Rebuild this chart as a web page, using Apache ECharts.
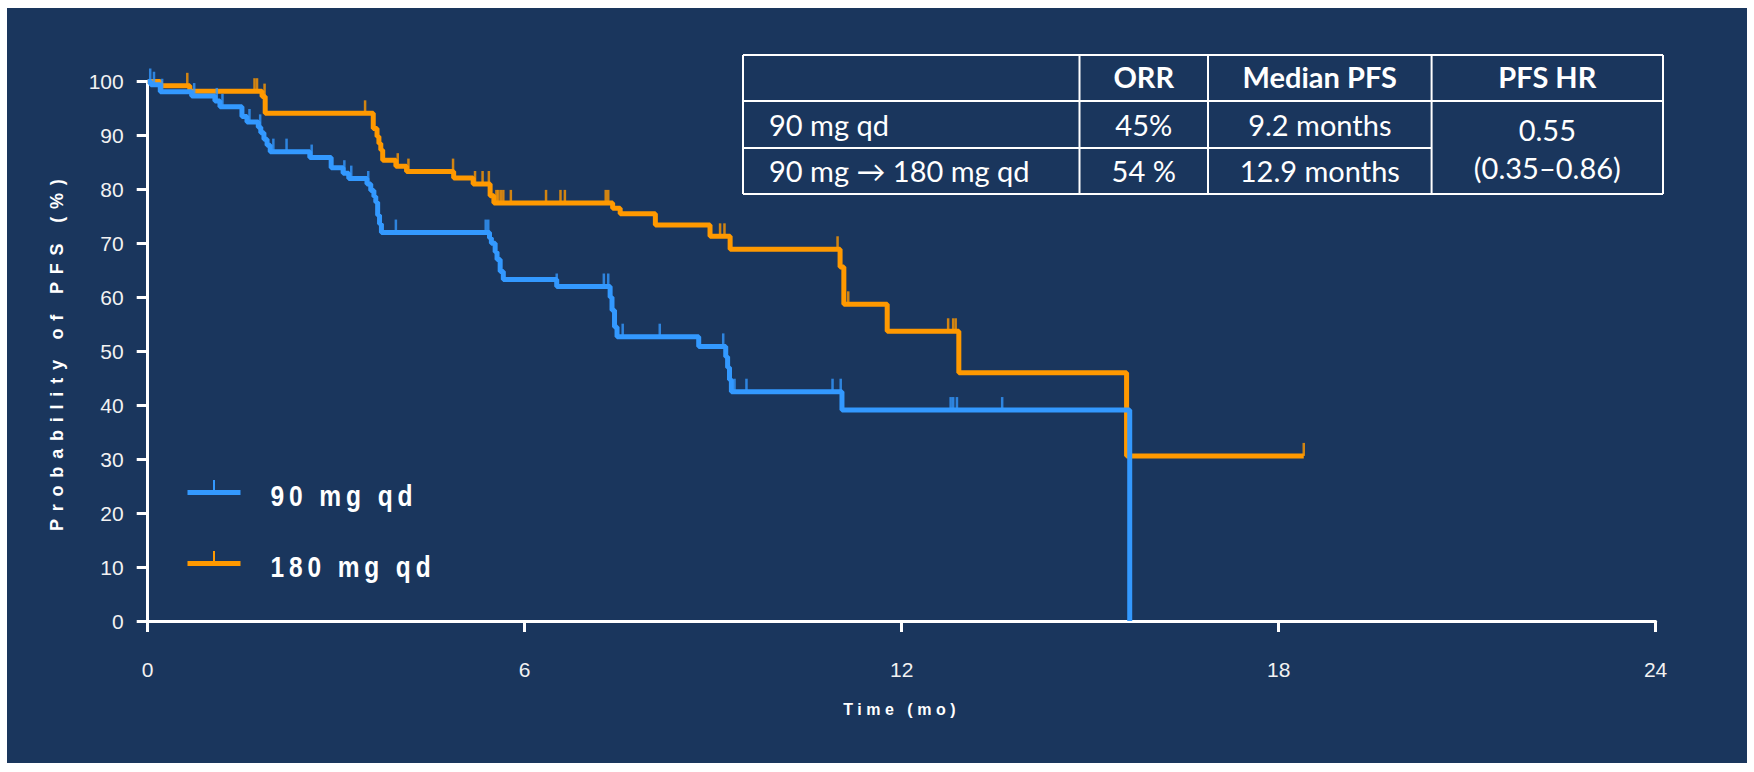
<!DOCTYPE html>
<html><head><meta charset="utf-8">
<script src="https://cdn.jsdelivr.net/npm/echarts@6/dist/echarts.min.js"></script>
<style>
html,body{margin:0;padding:0;background:#ffffff;width:1754px;height:772px;overflow:hidden}
#chart{position:absolute;left:7px;top:8px;width:1740px;height:755px;}
</style>
</head><body><div id="chart"></div>
<script>
// ---------------- data ----------------
const seriesNames = ['90 mg qd', '180 mg qd'];
// Kaplan-Meier steps: [time (months), PFS %]
const pfs90 = [[0,100],[0.05,99.4],[0.2,98.1],[0.70,97.3],[1.07,96.4],[1.15,95.3],[1.50,93.5],[1.58,92.5],[1.76,91.5],[1.80,90.5],[1.85,89.3],[1.90,88.2],[1.95,87.0],[2.58,85.9],[2.92,84.0],[3.11,83.0],[3.20,82.0],[3.49,81.0],[3.55,79.8],[3.60,78.7],[3.63,77.6],[3.66,75.2],[3.69,73.6],[3.72,72.0],[5.44,71.0],[5.47,70.0],[5.53,68.4],[5.56,67.0],[5.61,64.8],[5.66,63.3],[6.51,62.0],[7.36,60.0],[7.39,57.6],[7.43,54.5],[7.47,52.7],[8.77,50.9],[9.20,49.0],[9.23,47.0],[9.26,44.7],[9.29,42.5],[11.05,39.1],[15.63,0]];
const pfs180 = [[0,100],[0.2,99.2],[0.67,98.2],[1.82,97.2],[1.87,94.1],[3.59,91.3],[3.65,89.8],[3.68,88.5],[3.71,87.3],[3.74,85.4],[3.95,84.3],[4.12,83.3],[4.87,82.1],[5.18,81.0],[5.45,78.8],[5.51,77.5],[7.40,76.5],[7.52,75.5],[8.08,73.4],[8.95,71.3],[9.27,68.9],[11.02,65.6],[11.08,58.7],[11.77,53.7],[12.91,46.0],[15.58,30.6],[18.40,30.6]];
// censoring times (months)
const censor90 = [0.04,0.10,0.23,0.74,1.10,1.19,1.62,1.79,2.00,2.21,2.61,3.13,3.24,3.51,3.95,5.38,5.42,6.51,7.26,7.33,7.56,8.15,9.16,9.34,9.53,10.90,11.03,12.78,12.82,12.88,13.60];
const censor180 = [0.63,1.70,1.74,1.86,3.46,3.98,4.15,4.86,5.21,5.33,5.43,5.55,5.58,5.62,5.66,5.78,6.34,6.57,6.64,7.29,7.33,9.11,9.18,10.98,11.15,12.74,12.82,12.86,18.40];
const xAxisTicks = [0, 6, 12, 18, 24];
const yAxisTicks = [0, 10, 20, 30, 40, 50, 60, 70, 80, 90, 100];
const xAxisTitle = 'Time (mo)';
const yAxisTitle = 'Probability of PFS (%)';
// summary table
const tableHeader = ['', 'ORR', 'Median PFS', 'PFS HR'];
const tableRow1 = ['90 mg qd', '45%', '9.2 months'];
const tableRow2 = ['90 mg \u2192 180 mg qd', '54 %', '12.9 months'];
const hazardRatio = ['0.55', '(0.35\u20130.86)'];

// ---------------- styles ----------------
const BG = '#1a365d';
const BLUE = '#3399ff';
const ORANGE = '#ff9900';
const SANS = "'Liberation Sans', Arial, sans-serif";
const TABLE_FONT = "Lato, 'Open Sans', sans-serif";

function valueAt(curve, t) {
  let v = curve[0][1];
  for (const [ti, pi] of curve) { if (ti <= t) v = pi; else break; }
  return v;
}

// table graphics
const colX = [736, 1072.5, 1201, 1424.6, 1656];
const rowY = [47, 93, 140, 186];
const tableEls = [];
function hline(x1, x2, y) { tableEls.push({type:'line', shape:{x1, y1:y, x2, y2:y}, style:{stroke:'#ffffff', lineWidth:2}}); }
function vline(x, y1, y2) { tableEls.push({type:'line', shape:{x1:x, y1, x2:x, y2}, style:{stroke:'#ffffff', lineWidth:2}}); }
hline(colX[0], colX[4], rowY[0]);
hline(colX[0], colX[4], rowY[1]);
hline(colX[0], colX[3], rowY[2]);
hline(colX[0], colX[4], rowY[3]);
colX.forEach(x => vline(x, rowY[0], rowY[3]));
function txt(s, x, y, align, bold) {
  tableEls.push({type:'text', x, y, style:{text:s, fill:'#ffffff', fontSize:29, fontFamily:TABLE_FONT,
    fontWeight: bold ? 'bold' : 'normal', align, verticalAlign:'middle', textAlign:align, textVerticalAlign:'middle'}});
}
const colCenters = [null, (colX[1]+colX[2])/2, (colX[2]+colX[3])/2, (colX[3]+colX[4])/2];
for (let i = 1; i < 4; i++) txt(tableHeader[i], colCenters[i], 68.5, 'center', true);
txt(tableRow1[0], colX[0] + 26, 116, 'left', false);
txt(tableRow1[1], colCenters[1], 116, 'center', false);
txt(tableRow1[2], colCenters[2], 116, 'center', false);
txt(tableRow2[0], colX[0] + 26, 162.5, 'left', false);
txt(tableRow2[1], colCenters[1], 162.5, 'center', false);
txt(tableRow2[2], colCenters[2], 162.5, 'center', false);
txt(hazardRatio[0], colCenters[3], 121, 'center', false);
txt(hazardRatio[1], colCenters[3], 159, 'center', false);

// legend icon: short vertical censor tick on a thick bar (the last tiny subpath only pads the box)
const legendIcon = 'path://M25.5,0H27.5V10H25.5Z M0,10H53V15H0Z M0,30.99H0.01V31H0Z';
function legendCfg(name, top) {
  return {
    data: [name], left: 175.5, top, orient: 'vertical', icon: legendIcon,
    itemWidth: 53, itemHeight: 31, selectedMode: false, symbolKeepAspect: false,
    itemStyle: {borderWidth: 0},
    textStyle: {color:'#ffffff', fontSize: 30, fontWeight: 'bold', fontFamily: SANS, padding: [0, 0, 0, 25]}
  };
}

const option = {
  backgroundColor: BG,
  animation: false,
  grid: {left: 140.7, right: 91.4, top: 73.5, bottom: 142, containLabel: false, outerBoundsMode: 'none'},
  xAxis: {
    type: 'value', min: xAxisTicks[0], max: xAxisTicks[xAxisTicks.length-1], interval: 6,
    name: xAxisTitle, nameLocation: 'middle', nameGap: 80,
    nameTextStyle: {color:'#ffffff', fontSize: 16, fontWeight: 'bold', fontFamily: SANS},
    axisLine: {show: true, onZero: false, lineStyle: {color:'#ffffff', width: 3}},
    axisTick: {show: true, length: 11, lineStyle: {color:'#ffffff', width: 3}},
    axisLabel: {color:'#f2f2f2', fontSize: 21, fontFamily: SANS, margin: 38},
    splitLine: {show: false}
  },
  yAxis: {
    type: 'value', min: yAxisTicks[0], max: yAxisTicks[yAxisTicks.length-1], interval: 10,
    name: yAxisTitle, nameLocation: 'middle', nameGap: 82,
    nameTextStyle: {color:'#ffffff', fontSize: 18, fontWeight: 'bold', fontFamily: SANS},
    axisLine: {show: true, onZero: false, lineStyle: {color:'#ffffff', width: 3}},
    axisTick: {show: true, length: 11, lineStyle: {color:'#ffffff', width: 3}},
    axisLabel: {color:'#f2f2f2', fontSize: 21, fontFamily: SANS, margin: 24},
    splitLine: {show: false}
  },
  legend: [legendCfg(seriesNames[0], 467), legendCfg(seriesNames[1], 538)],
  graphic: tableEls,
  series: [
    {name: seriesNames[1], type: 'line', step: 'end', data: pfs180, showSymbol: false, symbol: 'none',
      lineStyle: {color: ORANGE, width: 5}, itemStyle: {color: ORANGE}, z: 2},
    {name: seriesNames[1] + ' censored', type: 'scatter', data: censor180.map(t => [t, valueAt(pfs180, t)]),
      symbol: 'rect', symbolSize: [2.5, 13], symbolOffset: [0, -6.5], itemStyle: {color: ORANGE}, z: 2, silent: true},
    {name: seriesNames[0], type: 'line', step: 'end', data: pfs90, showSymbol: false, symbol: 'none',
      lineStyle: {color: BLUE, width: 5}, itemStyle: {color: BLUE}, z: 3},
    {name: seriesNames[0] + ' censored', type: 'scatter', data: censor90.map(t => [t, valueAt(pfs90, t)]),
      symbol: 'rect', symbolSize: [2.5, 13], symbolOffset: [0, -6.5], itemStyle: {color: BLUE}, z: 3, silent: true}
  ]
};

const dom = document.getElementById('chart');
const chart = echarts.init(dom, null, {renderer: 'svg'});
// letter spacing (and condensed width) for the spaced-out labels
const spacing = {};
spacing[yAxisTitle] = {ls: 7.8};
spacing[xAxisTitle] = {ls: 4.5};
spacing[seriesNames[0]] = {ls: 6, len: 147};
spacing[seriesNames[1]] = {ls: 6, len: 165};
function applySpacing() {
  dom.querySelectorAll('text').forEach(t => {
    if (t.outerHTML.indexOf('Lato') >= 0) return; // table texts keep normal spacing
    const cfg = spacing[t.textContent];
    if (!cfg) return;
    t.setAttribute('letter-spacing', cfg.ls);
    if (cfg.len) { t.setAttribute('textLength', cfg.len); t.setAttribute('lengthAdjust', 'spacingAndGlyphs'); }
  });
}
chart.on('finished', applySpacing);
chart.setOption(option);
applySpacing();
</script>
</body></html>
